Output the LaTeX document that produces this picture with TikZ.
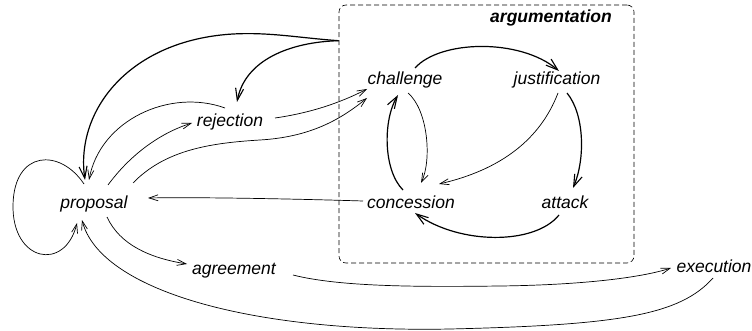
\documentclass[tikz,border=0pt]{standalone}
\usepackage{fontspec}
\setmainfont{Liberation Sans}
\usetikzlibrary{arrows.meta}
\begin{document}
\begin{tikzpicture}[x=1pt,y=-1pt,
  lbl/.style={font=\fontsize{17.5}{20}\selectfont\itshape, inner sep=0pt, anchor=base},
  thin/.style={line width=0.7pt, -{Straight Barb[length=9pt,width=6pt,line width=0.7pt]}},
  thick/.style={line width=1.2pt, -{Straight Barb[length=12pt,width=8pt,line width=1.1pt]}},
  box/.style={draw, dashed, dash pattern=on 5pt off 3pt, line width=0.6pt, rounded corners=7pt, inner sep=0pt}]
\useasboundingbox (0,0) rectangle (752,331);
\node[box, minimum width=295pt, minimum height=258pt] (argbox) at (486.5,134) {};
\node[lbl, font=\fontsize{17.5}{20}\selectfont\bfseries\itshape] (argtitle) at (551,23) {argumentation};
\node[lbl] (proposal) at (94,208) {proposal};
\node[lbl] (rejection) at (230,127) {rejection};
\node[lbl] (challenge) at (405,85) {challenge};
\node[lbl] (justification) at (557,85) {justification};
\node[lbl] (concession) at (411,208) {concession};
\node[lbl] (attack) at (565,208) {attack};
\node[lbl] (agreement) at (234,274) {agreement};
\node[lbl] (execution) at (714,272) {execution};
% box -> proposal, box -> rejection
\draw[thick] ([shift={(0,36)}]argbox.north west) .. controls (300,38) and (270,32) .. (233,34)
   .. controls (130,40) and (75,110) .. ([shift={(-9,-28)}]proposal.base);
\draw[thick] ([shift={(0,36)}]argbox.north west) .. controls (290,42) and (245,60) .. ([shift={(7,-25)}]rejection.base);
% rejection -> proposal
\draw[thin] ([shift={(-5,-19)}]rejection.base) .. controls (170,88) and (100,120) .. ([shift={(-5,-28)}]proposal.base);
% proposal -> rejection
\draw[thin] ([shift={(14,-23)}]proposal.base) .. controls (130,155) and (160,133) .. ([shift={(-38,-4)}]rejection.base);
% proposal -> challenge
\draw[thin] ([shift={(39,-25)}]proposal.base) .. controls (165,150) and (210,143) .. (260,140)
   .. controls (310,137) and (340,120) .. ([shift={(-38,13)}]challenge.base);
% rejection -> challenge
\draw[thin] ([shift={(45,-9)}]rejection.base) .. controls (310,113) and (340,103) .. ([shift={(-38,4)}]challenge.base);
% concession -> proposal
\draw[thin] ([shift={(-48,-7)}]concession.base) .. controls (300,199) and (200,197) .. ([shift={(54,-10)}]proposal.base);
% self loop
\draw[thin] ([shift={(-10,-24)}]proposal.base) .. controls (60,148) and (14,150) .. (13,205)
   .. controls (12,262) and (65,272) .. ([shift={(-17,15)}]proposal.base);
% proposal -> agreement
\draw[thin] ([shift={(13,9)}]proposal.base) .. controls (120,245) and (150,258) .. ([shift={(-47,-10)}]agreement.base);
% agreement -> execution
\draw[thin] ([shift={(59,1)}]agreement.base) .. controls (340,287) and (420,287) .. (500,286)
   .. controls (580,285) and (640,278) .. ([shift={(-43,-4)}]execution.base);
% execution -> proposal
\draw[thin] ([shift={(-1,6)}]execution.base) .. controls (680,315) and (620,325) .. (450,329)
   .. controls (250,333) and (100,290) .. ([shift={(-12,12)}]proposal.base);
% inside argumentation
\draw[thick] ([shift={(10,-17)}]challenge.base) .. controls (440,40) and (520,38) .. ([shift={(2,-14)}]justification.base);
\draw[thick] ([shift={(10,8)}]justification.base) .. controls (585,115) and (585,160) .. ([shift={(8,-20)}]attack.base);
\draw[thin] ([shift={(1,8)}]justification.base) .. controls (540,140) and (500,170) .. ([shift={(28,-24)}]concession.base);
\draw[thick] ([shift={(-6,7)}]attack.base) .. controls (535,245) and (460,245) .. ([shift={(4,5)}]concession.base);
\draw[thick] ([shift={(-8,-18)}]concession.base) .. controls (383,170) and (383,120) .. ([shift={(-7,10)}]challenge.base);
\draw[thin] ([shift={(3,8)}]challenge.base) .. controls (428,110) and (432,160) .. ([shift={(10,-25)}]concession.base);
\end{tikzpicture}
\end{document}
